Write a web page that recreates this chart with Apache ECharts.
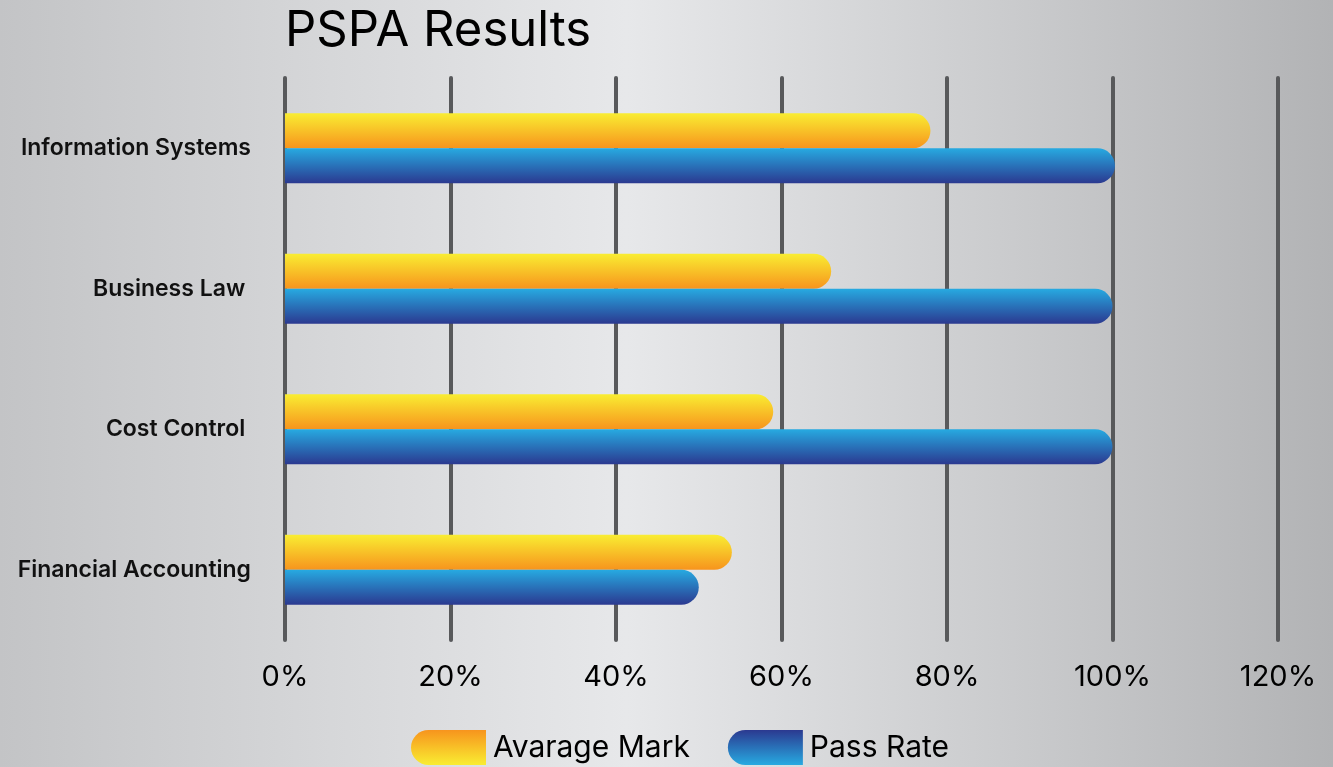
<!DOCTYPE html>
<html>
<head>
<meta charset="utf-8">
<script src="https://cdn.jsdelivr.net/npm/echarts@6/dist/echarts.min.js"></script>
<style>
  html, body { margin: 0; padding: 0; }
  #chart { width: 1333px; height: 767px; }
</style>
</head>
<body>
<div id="chart"></div>
<script>
// data, bottom category first (ECharts category y axis starts at the bottom)
const categories = ["Financial Accounting", "Cost Control ", "Business Law ", "Information Systems"];
const avarageMark = [54, 59, 66, 78];
const passRate = [50, 100, 100, 100.3];
const xTicks = { min: 0, max: 120, step: 20 };

const fontFamily = "Inter, 'Open Sans', sans-serif";

function vGrad(top, bottom) {
  return new echarts.graphic.LinearGradient(0, 0, 0, 1, [
    { offset: 0, color: top },
    { offset: 1, color: bottom },
  ]);
}

const chart = echarts.init(document.getElementById("chart"));
chart.setOption({
  animation: false,
  backgroundColor: new echarts.graphic.LinearGradient(0, 0, 1, 0, [
    { offset: 0, color: "#c3c4c6" },
    { offset: 0.47, color: "#e7e8ea" },
    { offset: 1, color: "#b2b3b5" },
  ]),
  title: {
    text: "PSPA Results",
    left: 280,
    top: 2,
    textStyle: { fontFamily, fontSize: 49, fontWeight: 400, color: "#000" },
  },
  legend: {
    left: 406,
    top: 725,
    itemWidth: 75,
    itemHeight: 35,
    itemGap: 38,
    textStyle: { fontFamily, fontSize: 30, color: "#000", padding: [0, 0, 0, 2] },
    data: [
      {
        name: "Avarage Mark",
        icon: "path://M17.5,0 L75,0 L75,35 L17.5,35 A17.5,17.5 0 0 1 17.5,0 Z",
        itemStyle: { color: vGrad("#f7941d", "#f9ed32") },
      },
      {
        name: "Pass Rate",
        icon: "path://M17.5,0 L75,0 L75,35 L17.5,35 A17.5,17.5 0 0 1 17.5,0 Z",
        itemStyle: { color: vGrad("#2b3990", "#27aae1") },
      },
    ],
  },
  grid: { left: 285, right: 55, top: 78, bottom: 127, containLabel: false },
  xAxis: {
    type: "value",
    min: xTicks.min,
    max: xTicks.max,
    interval: xTicks.step,
    axisLine: { show: false },
    axisTick: { show: false },
    axisLabel: {
      formatter: "{value}%",
      margin: 23,
      fontFamily,
      fontSize: 29,
      color: "#000",
    },
    splitLine: {
      show: true,
      lineStyle: { color: "#58595b", width: 4, cap: "round" },
    },
  },
  yAxis: {
    type: "category",
    data: categories,
    axisLine: { show: false },
    axisTick: { show: false },
    axisLabel: {
      margin: 34,
      fontFamily,
      fontSize: 23,
      fontWeight: 600,
      color: "#111",
    },
  },
  series: [
    {
      name: "Avarage Mark",
      type: "bar",
      data: avarageMark,
      barWidth: 35,
      barGap: "0%",
      itemStyle: {
        color: vGrad("#f9ed32", "#f7941d"),
        borderRadius: [0, 17.5, 17.5, 0],
      },
    },
    {
      name: "Pass Rate",
      type: "bar",
      data: passRate,
      barWidth: 35,
      barGap: "0%",
      itemStyle: {
        color: vGrad("#27aae1", "#2b3990"),
        borderRadius: [0, 17.5, 17.5, 0],
      },
    },
  ],
});
</script>
</body>
</html>
